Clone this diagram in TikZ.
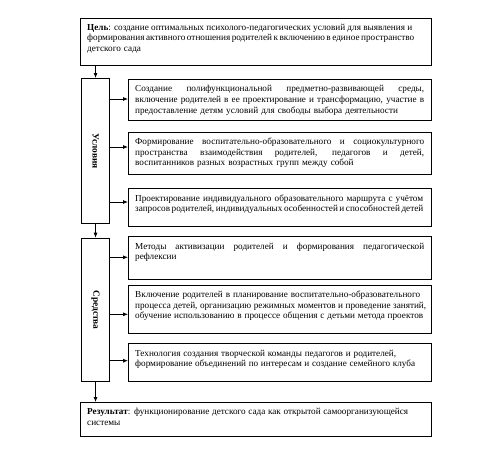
\documentclass[tikz,border=0pt]{standalone}
\usepackage{fontspec}
\setmainfont{Liberation Serif}
\usetikzlibrary{arrows.meta}
\newcommand{\jbox}[2]{{\spaceskip=0pt\xspaceskip=0pt\makebox[#1pt][s]{#2}}}
\newcommand{\jline}[2]{\jbox{#1}{#2}\\}
\begin{document}
\begin{tikzpicture}[x=1pt,y=-1pt,
  frame/.style={draw, line width=1.1pt, inner sep=0pt, anchor=north west},
  txt/.style={anchor=north west, inner sep=0pt, text width=345pt, align=left,
    font=\fontsize{9.2}{10.7}\selectfont},
  side/.style={font=\fontsize{9.4}{10.7}\selectfont\bfseries, rotate=-90, inner sep=0pt},
  arr/.style={line width=0.75pt, -{Latex[length=5pt,width=4pt]}}
]
\useasboundingbox (0,0) rectangle (504,459);

% goal
\node[frame, minimum width=351, minimum height=47.5] (goal) at (80,17.5) {};
\node[txt] (goalt) at (87,22.6) {\strut\jline{325}{\textbf{Цель}: создание оптимальных психолого-педагогических условий для выявления и}\jline{326}{формирования активного отношения родителей к включению в единое пространство}детского сада};

% side boxes
\node[frame, minimum width=28, minimum height=145] (U) at (81,78) {};
\node[side] (Ut) at (U.center) {Условия};
\node[frame, minimum width=28, minimum height=143.3] (S) at (81,237.7) {};
\node[side] (St) at (S.center) {Средства};

% condition boxes
\node[frame, minimum width=303, minimum height=41] (b1) at (128,79) {};
\node[txt] (b1t) at ([shift={(7,5.1)}]b1.north west) {\strut\jline{289}{Создание полифункциональной предметно-развивающей среды,}\jline{289}{включение родителей в ее проектирование и трансформацию, участие в}предоставление детям условий для свободы выбора деятельности};

\node[frame, minimum width=303, minimum height=42.6] (b2) at (128,131.7) {};
\node[txt] (b2t) at ([shift={(7,5.1)}]b2.north west) {\strut\jline{289}{Формирование воспитательно-образовательного и социокультурного}\jline{289}{пространства взаимодействия родителей, педагогов и детей,}воспитанников разных возрастных групп между собой};

\node[frame, minimum width=303, minimum height=37.7] (b3) at (128,188.3) {};
\node[txt] (b3t) at ([shift={(7,5.1)}]b3.north west) {\strut\jline{288}{Проектирование индивидуального образовательного маршрута с учётом}\jbox{288}{запросов родителей, индивидуальных особенностей и способностей детей}};

% means boxes
\node[frame, minimum width=303, minimum height=42.4] (b4) at (128,236.3) {};
\node[txt] (b4t) at ([shift={(7,5.1)}]b4.north west) {\strut\jline{289}{Методы активизации родителей и формирования педагогической}рефлексии};

\node[frame, minimum width=303, minimum height=48] (b5) at (128,284.7) {};
\node[txt] (b5t) at ([shift={(7,5.1)}]b5.north west) {\strut\jline{285}{Включение родителей в планирование воспитательно-образовательного}\jline{291}{процесса детей, организацию режимных моментов и проведение занятий,}\jbox{288}{обучение использованию в процессе общения с детьми метода проектов}};

\node[frame, minimum width=303, minimum height=37.4] (b6) at (128,343.3) {};
\node[txt] (b6t) at ([shift={(7,5.1)}]b6.north west) {\strut\jline{261}{Технология создания творческой команды педагогов и родителей,}\jbox{280}{формирование объединений по интересам и создание семейного клуба}};

% result
\node[frame, minimum width=351, minimum height=34] (res) at (80,402) {};
\node[txt] (rest) at ([shift={(7,5.1)}]res.north west) {\strut\jline{321}{\textbf{Результат}: функционирование детского сада как открытой самоорганизующейся}системы};

% connectors
\draw[arr] (goal.south -| U.north) -- (U.north);
\draw[arr] (U.south) -- (S.north);
\draw[arr] (S.south) -- (res.north -| S.south);

\coordinate (y1) at (0,99);
\coordinate (y2) at (0,147);
\coordinate (y3) at (0,202);
\coordinate (y4) at (0,257.3);
\coordinate (y5) at (0,314.3);
\coordinate (y6) at (0,360.7);
\draw[arr] (U.east |- y1) -- (b1.west |- y1);
\draw[arr] (U.east |- y2) -- (b2.west |- y2);
\draw[arr] (U.east |- y3) -- (b3.west |- y3);
\draw[arr] (S.east |- y4) -- (b4.west |- y4);
\draw[arr] (S.east |- y5) -- (b5.west |- y5);
\draw[arr] (S.east |- y6) -- (b6.west |- y6);
\end{tikzpicture}
\end{document}
